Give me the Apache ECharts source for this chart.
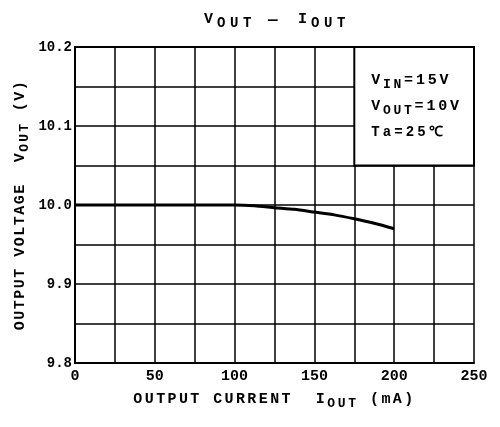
<!DOCTYPE html>
<html>
<head>
<meta charset="utf-8">
<script src="https://cdn.jsdelivr.net/npm/echarts@6/dist/echarts.min.js"></script>
<style>
  html, body { margin: 0; padding: 0; background: #fff; }
  #chart { width: 500px; height: 427px; }
</style>
</head>
<body>
<div id="chart"></div>
<script>
// output current (mA)
const currentData = [0, 25, 50, 75, 100, 112.5, 125, 137.5, 150, 162.5, 175, 187.5, 200]
// output voltage (V)
const voltageData = [10.0, 10.0, 10.0, 10.0, 10.0, 9.999, 9.9966, 9.9945, 9.991, 9.9875, 9.9825, 9.9768, 9.970]
// tick labels
const xTickLabels = ['0', '50', '100', '150', '200', '250']
const yTickLabels = ['9.8', '9.9', '10.0', '10.1', '10.2']
// condition box corners (current, voltage)
const boxFrom = [175, 10.05]
const boxTo = [250, 10.2]

const font = '"Liberation Mono", "DejaVu Sans Mono", monospace'

// typewriter look: every character in its own fixed-width rich token
function spread(text, style) {
    return text.split('').map(ch => '{' + style + '|' + ch + '}').join('')
}

function tok(size, width, extra) {
    return Object.assign({ fontFamily: font, fontSize: size, color: '#000', fontWeight: 'bold', width: width, align: 'left' }, extra || {})
}

const chart = echarts.init(document.getElementById('chart'))

const option = {
    backgroundColor: '#fff',
    animation: false,
    title: {
        text: spread('V', 'b') + spread('OUT', 's') + '{g| }{d|—}{g| }' + spread('I', 'b') + spread('OUT', 's'),
        left: 199,
        top: 4,
        textStyle: {
            rich: {
                b: tok(15, 13),
                s: tok(14, 13, { padding: [7, 0, 0, 0] }),
                g: tok(15, 12),
                d: tok(16, 18)
            }
        }
    },
    grid: { left: 75, right: 26, top: 47, bottom: 64 },
    xAxis: [{
        type: 'value',
        min: 0,
        max: 250,
        interval: 25,
        name: spread('OUTPUT CURRENT  I', 't') + spread('OUT', 's') + spread(' (mA)', 't'),
        nameLocation: 'middle',
        nameGap: 26,
        nameTextStyle: {
            rich: {
                t: tok(15, 11.4),
                s: tok(13, 10.5, { padding: [8, 0, 0, 0] })
            }
        },
        axisLine: { show: true, onZero: false, lineStyle: { color: '#000', width: 2 } },
        axisTick: { show: false },
        splitLine: { show: true, lineStyle: { color: '#000', width: 1.5 } },
        axisLabel: {
            fontFamily: font, fontSize: 15, color: '#000', fontWeight: 'bold', margin: 6,
            formatter: v => (xTickLabels.includes(String(v)) ? String(v) : '')
        }
    }, {
        type: 'value',
        position: 'top',
        min: 0,
        max: 250,
        axisLine: { show: true, lineStyle: { color: '#000', width: 2 } },
        axisTick: { show: false },
        axisLabel: { show: false },
        splitLine: { show: false },
        z: 5
    }],
    yAxis: [{
        type: 'value',
        min: 9.8,
        max: 10.2,
        interval: 0.05,
        name: spread('OUTPUT VOLTAGE  V', 't') + spread('OUT', 's') + spread(' (V)', 't'),
        nameLocation: 'middle',
        nameMoveOverlap: false,
        nameGap: 44,
        nameTextStyle: {
            rich: {
                t: tok(15, 10.5),
                s: tok(13, 10, { padding: [8, 0, 0, 0] })
            }
        },
        axisLine: { show: true, onZero: false, lineStyle: { color: '#000', width: 2 } },
        axisTick: { show: false },
        splitLine: { show: true, lineStyle: { color: '#000', width: 1.5 } },
        axisLabel: {
            fontFamily: font, fontSize: 14, color: '#000', fontWeight: 'bold', margin: 3,
            formatter: v => {
                const s = v.toFixed(1)
                return Math.abs(v * 10 - Math.round(v * 10)) < 1e-6 && yTickLabels.includes(s) ? s : ''
            }
        }
    }, {
        type: 'value',
        position: 'right',
        min: 9.8,
        max: 10.2,
        axisLine: { show: true, lineStyle: { color: '#000', width: 2 } },
        axisTick: { show: false },
        axisLabel: { show: false },
        splitLine: { show: false },
        z: 5
    }],
    series: [{
        type: 'line',
        data: currentData.map((c, i) => [c, voltageData[i]]),
        showSymbol: false,
        smooth: 0.2,
        lineStyle: { color: '#000', width: 3 },
        markArea: {
            silent: true,
            itemStyle: { color: '#fff', borderColor: '#000', borderWidth: 2 },
            label: {
                show: true,
                position: 'insideLeft',
                distance: 18,
                align: 'left',
                formatter: spread('V', 't') + spread('IN', 's') + spread('=15V', 't') + '\n' +
                    spread('V', 't') + spread('OUT', 's') + spread('=10V', 't') + '\n' +
                    spread('Ta=25℃', 'u'),
                rich: {
                    t: tok(15, 11.8, { lineHeight: 26 }),
                    s: tok(13, 10.5, { lineHeight: 26, padding: [8, 0, 0, 0] }),
                    u: tok(14, 11.5, { lineHeight: 26 })
                }
            },
            data: [[{ coord: boxFrom }, { coord: boxTo }]]
        }
    }]
}

chart.setOption(option)
</script>
</body>
</html>
